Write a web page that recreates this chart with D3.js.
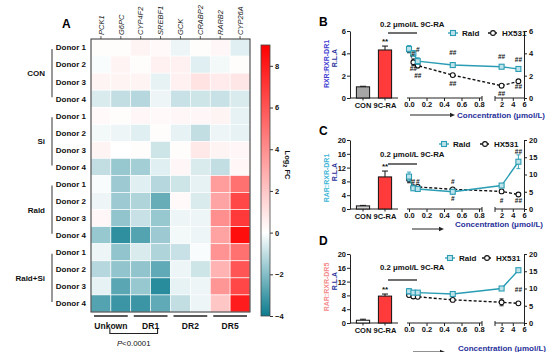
<!DOCTYPE html>
<html><head><meta charset="utf-8">
<script src="https://cdn.jsdelivr.net/npm/d3@7"></script>
<style>body{margin:0;background:#fff} svg{display:block} text{font-family:"Liberation Sans",Arial,sans-serif}</style>
</head><body><svg id="c" width="553" height="352"></svg>
<script>
// ---------- Panel A data ----------
const genes = ["PCK1","G6PC","CYP4F2","SREBF1","GCK","CRABP2","RARB2","CYP26A"];
const groups = ["CON","Si","Rald","Rald+Si"];
const donors = ["Donor 1","Donor 2","Donor 3","Donor 4"];
const heatValues = [
  [ 0.1, 0.1, 0.4, 0.2,-0.3, 0.1, 0.3,-0.5],
  [-0.1, 0.4, 0.1, 0.5, 0.5,-0.5,-0.2, 0.1],
  [ 0.4, 0.4, 0.4,-0.4, 0.5, 1.0, 0.7, 0.9],
  [-0.6,-1.0,-1.2,-0.3,-0.9,-0.8,-0.9,-0.6],
  [ 0.2, 0.1, 0.3, 0.2, 0.3, 0.3, 0.4,-0.4],
  [-0.2,-0.3,-0.5, 0.1,-0.4,-1.0,-0.3,-0.4],
  [ 0.4, 0.0, 0.1,-0.8, 0.1, 0.8, 0.4, 0.3],
  [-1.0,-1.7,-1.5,-0.5, 0.3,-0.6,-1.0, 0.3],
  [-0.1,-1.6,-0.5,-1.2,-0.8,-0.4, 3.5, 5.0],
  [-0.3,-1.6,-1.3,-2.5, 0.2,-0.6, 3.2, 6.5],
  [ 0.3,-1.8,-0.9,-1.7,-0.3,-0.3, 4.0, 7.0],
  [-1.7,-3.4,-2.8,-1.6,-0.2,-0.3, 3.3, 8.5],
  [-0.3,-1.8,-0.6,-1.3,-0.9,-0.1, 3.8, 5.0],
  [-1.2,-1.8,-1.8,-2.6,-0.3,-0.8, 2.7, 6.0],
  [-0.4,-2.7,-1.7,-3.5,-0.4,-0.3, 3.7, 6.5],
  [-2.8,-3.2,-3.2,-2.6,-1.0,-0.3, 2.0, 8.0]
];
const colorTicks = [-4,-2,0,2,4,6,8];
const familyLabels = ["Unkown","DR1","DR2","DR5"];
const familyGenes = [["PCK1","G6PC"],["CYP4F2","SREBF1"],["GCK","CRABP2"],["RARB2","CYP26A"]];
const pText = "<0.0001";

// ---------- Panels B-D data ----------
const barCategories = ["CON","9C-RA"];
const concX = [0, 0.05, 0.1, 0.5, 2, 5];
const seriesNames = ["Rald","HX531"];

const barB = [1.0, 4.3], barBErr = [0.05, 0.35];
const raldB = [4.4, 4.0, 3.3, 2.95, 2.8, 2.6], raldBErr = [0.3, 0.25, 0.3, 0.15, 0.1, 0.1];
const hxB   = [4.3, 3.2, 2.9, 2.05, 1.1, 1.5], hxBErr   = [0.25, 0.3, 0.2, 0.1, 0.1, 0.1];
const leftTicksB = [0,2,4,6], rightTicksB = [0,2,4,6];
const annotB = [[0.05,3.97,"#"],[0.1,4.3,"#"],[0.05,2.6,"##"],[0.1,2.05,"##"],[0.5,4.06,"##"],[0.5,1.3,"##"],[2,3.7,"##"],[5,3.45,"##"],[2,0.42,"##"],[5,1.05,"##"]];

const barC = [0.9, 9.3], barCErr = [0.15, 1.7];
const raldC = [9.4, 6.0, 5.8, 5.0, 6.8, 13.7], raldCErr = [1.3, 0.6, 0.5, 0.6, 0.5, 2.0];
const hxC   = [8.6, 6.3, 6.4, 5.7, 5.1, 4.2], hxCErr   = [1.0, 0.5, 0.5, 0.4, 0.4, 0.4];
const leftTicksC = [0,4,8,12,16,20], rightTicksC = [0,5,10,15,20];
const annotC = [[0.05,7.9,"#"],[0.1,8.1,"#"],[0.5,8.1,"#"],[0.5,3.1,"#"],[2,2.6,"#"],[5,16.6,"##"],[5,2.4,"##"]];

const barD = [0.8, 7.8], barDErr = [0.3, 0.6];
const raldD = [9.2, 8.8, 8.8, 8.4, 10.0, 15.3], raldDErr = [0.8, 0.4, 0.4, 0.4, 0.3, 0.5];
const hxD   = [8.1, 7.7, 7.6, 6.7, 6.0, 5.7], hxDErr   = [0.5, 0.6, 0.3, 0.3, 1.0, 0.3];
const leftTicksD = [0,4,8,12,16,20], rightTicksD = [0,5,10,15,20];
const annotD = [[5,9.6,"##"]];

const treatmentText = "0.2 \u03bcmol/L 9C-RA";
const concText = "Concentration (\u03bcmol/L)";

// ---------- Drawing ----------
const svg = d3.select("#c");
const FONT = "Liberation Sans, Arial, sans-serif";
const TEAL = "#0a7b8e", RED = "#ff0000", LINE_T = "#2a9db4", NAVY = "#27309a";

// Heatmap
const hx0 = 91, hx1 = 250, hy0 = 39, hy1 = 312;
const xH = d3.scaleBand().domain(genes).range([hx0, hx1]);
const rowKeys = groups.flatMap(g => donors.map(d => g + "|" + d));
const yH = d3.scaleBand().domain(rowKeys).range([hy0, hy1]);
const col = v => v >= 0 ? d3.interpolateRgb("#ffffff", RED)(Math.min(v/9,1)) : d3.interpolateRgb("#ffffff", TEAL)(Math.min(-v/4,1));

svg.append("text").attr("x",62).attr("y",28).attr("font-size",12).attr("font-weight","bold").text("A");

const cells = [];
heatValues.forEach((row,i)=>row.forEach((v,j)=>cells.push({r:rowKeys[i], g:genes[j], v})));
svg.append("g").selectAll("rect").data(cells).join("rect")
  .attr("x",d=>xH(d.g)).attr("y",d=>yH(d.r)).attr("width",xH.bandwidth()).attr("height",yH.bandwidth())
  .attr("fill",d=>col(d.v)).attr("stroke","#ffffff").attr("stroke-width",0.6);
svg.append("rect").attr("x",hx0).attr("y",hy0).attr("width",hx1-hx0).attr("height",hy1-hy0)
  .attr("fill","none").attr("stroke","#333").attr("stroke-width",1);

// gene labels
const gl = svg.append("g");
genes.forEach(g=>{
  const cx = xH(g)+xH.bandwidth()/2;
  gl.append("line").attr("x1",cx).attr("x2",cx).attr("y1",hy0).attr("y2",hy0-3).attr("stroke","#333").attr("stroke-width",0.8);
  gl.append("text").attr("transform",`translate(${cx+2.8},${hy0-4}) rotate(-90)`)
    .attr("font-size",7.5).attr("font-style","italic").attr("fill","#222").text(g);
});
// row labels
rowKeys.forEach(k=>{
  svg.append("text").attr("x",86).attr("y",yH(k)+yH.bandwidth()/2+2.9).attr("text-anchor","end")
    .attr("font-size",8).attr("font-weight","bold").attr("fill","#111").text(k.split("|")[1]);
});
// group labels
groups.forEach(g=>{
  const top = yH(g+"|"+donors[0]), bot = yH(g+"|"+donors[3])+yH.bandwidth();
  svg.append("line").attr("x1",52).attr("x2",52).attr("y1",top+10).attr("y2",bot-10).attr("stroke","#333").attr("stroke-width",1);
  svg.append("text").attr("x",45).attr("y",(top+bot)/2+2.9).attr("text-anchor","end")
    .attr("font-size",8).attr("font-weight","bold").attr("fill","#111").text(g);
});
// family brackets
familyGenes.forEach((fg,i)=>{
  const a = xH(fg[0])+3, b = xH(fg[1])+xH.bandwidth()-3;
  svg.append("line").attr("x1",a).attr("x2",b).attr("y1",316).attr("y2",316).attr("stroke","#222").attr("stroke-width",1.3);
  svg.append("text").attr("x",(a+b)/2).attr("y",328.5).attr("text-anchor","middle")
    .attr("font-size",8.5).attr("font-weight","bold").attr("fill","#111").text(familyLabels[i]);
});
{
  const a = xH("PCK1")+xH.bandwidth()-1, b = xH("SREBF1")+xH.bandwidth()/2-3;
  svg.append("path").attr("d",`M${a},329 V333.5 H${b} V329`).attr("fill","none").attr("stroke","#222").attr("stroke-width",1.1);
  const t = svg.append("text").attr("x",(a+b)/2).attr("y",346).attr("text-anchor","middle").attr("font-size",7.8).attr("fill","#111");
  t.append("tspan").attr("font-style","italic").text("P");
  t.append("tspan").text(pText);
}
// colorbar
const cbX = 261, cbW = 9;
const yCB = d3.scaleLinear().domain([-4,9]).range([316,45]);
const grad = svg.append("defs").append("linearGradient").attr("id","cbg").attr("x1",0).attr("x2",0).attr("y1",1).attr("y2",0);
d3.range(-4,9.01,0.5).forEach(v=>grad.append("stop").attr("offset",(v+4)/13).attr("stop-color",col(v)));
svg.append("rect").attr("x",cbX).attr("y",yCB(9)).attr("width",cbW).attr("height",yCB(-4)-yCB(9))
  .attr("fill","url(#cbg)").attr("stroke","#444").attr("stroke-width",0.8);
const cbAxis = svg.append("g").attr("transform",`translate(${cbX+cbW},0)`)
  .call(d3.axisRight(yCB).tickValues(colorTicks).tickSize(3).tickFormat(d3.format("d")));
cbAxis.select(".domain").remove();
cbAxis.selectAll("text").attr("font-size",7.5).attr("font-weight","bold").attr("font-family",FONT).attr("fill","#111").attr("x",5);
cbAxis.selectAll("line").attr("stroke","#333");
{
  const t = svg.append("text").attr("transform","translate(285,165) rotate(90)").attr("text-anchor","middle")
    .attr("font-size",7.5).attr("font-weight","bold").attr("fill","#111");
  t.append("tspan").text("Log");
  t.append("tspan").attr("font-size",5.5).attr("dy",2).text("2");
  t.append("tspan").attr("dy",-2).text(" FC");
}

// ---------- Panels B-D ----------
const s1 = d3.scaleLinear().domain([0,0.8]).range([409,479]);
const s2 = d3.scaleLinear().domain([1,6]).range([496,524]);
const xc = v => v <= 0.8 ? s1(v) : s2(v);
const xBar = d3.scaleBand().domain(barCategories).range([352,396]).paddingInner(0.4).paddingOuter(0.2);

const panels = [
  {lab:"B", labY:26, yTop:31, y0:98, max:6, lt:leftTicksB, rt:rightTicksB, bars:barB, barErr:barBErr, conFill:"#a6a6a6",
   rald:raldB, raldE:raldBErr, hx:hxB, hxE:hxBErr, ann:annotB, name1:"RXR:RXR-DR1", c1:"#3b3bd0", labCY:64,
   legY:33, legX1:453, legX2:493, trtY:27, trtLineY:33, concY:118, arrowY:115, arrowX0:410, arrowX1:455, concX:457},
  {lab:"C", labY:135, yTop:140, y0:209, max:20, lt:leftTicksC, rt:rightTicksC, bars:barC, barErr:barCErr, conFill:"#d0d0d0",
   rald:raldC, raldE:raldCErr, hx:hxC, hxE:hxCErr, ann:annotC, name1:"RAR:RXR-DR1", c1:"#3cb4d6", labCY:178,
   legY:144, legX1:444, legX2:485, trtY:157, trtLineY:164, concY:227, arrowY:229, arrowX0:412, arrowX1:444, concX:455},
  {lab:"D", labY:245, yTop:254, y0:323, max:20, lt:leftTicksD, rt:rightTicksD, bars:barD, barErr:barDErr, conFill:"#ffffff",
   rald:raldD, raldE:raldDErr, hx:hxD, hxE:hxDErr, ann:annotD, name1:"RAR:RXR-DR5", c1:"#f48a8a", labCY:287,
   legY:258, legX1:450, legX2:487, trtY:270, trtLineY:280, concY:351, arrowY:352, arrowX0:413, arrowX1:445, concX:458}
];

function styleAxis(g){
  g.selectAll("text").attr("font-size",7.5).attr("font-weight","bold").attr("font-family",FONT).attr("fill","#111");
  g.selectAll("line").attr("stroke","#222");
  g.select(".domain").attr("stroke","#222").attr("stroke-width",1);
}

panels.forEach(p=>{
  const y = d3.scaleLinear().domain([0,p.max]).range([p.y0,p.yTop]);
  svg.append("text").attr("x",319).attr("y",p.labY).attr("font-size",12).attr("font-weight","bold").text(p.lab);
  // y labels
  svg.append("text").attr("transform",`translate(329,${p.labCY}) rotate(-90)`).attr("text-anchor","middle")
    .attr("font-size",7).attr("font-weight","bold").attr("fill",p.c1).text(p.name1);
  svg.append("text").attr("transform",`translate(337,${p.labCY-6}) rotate(-90)`).attr("text-anchor","middle")
    .attr("font-size",7).attr("font-weight","bold").attr("fill",NAVY).text("R.L.A");
  // bar axis
  const ly = svg.append("g").attr("transform","translate(350,0)")
    .call(d3.axisLeft(y).tickValues(p.lt).tickSize(3).tickSizeOuter(0).tickFormat(d3.format("d")));
  styleAxis(ly); ly.selectAll("text").attr("x",-4);
  svg.append("line").attr("x1",350).attr("x2",398).attr("y1",p.y0).attr("y2",p.y0).attr("stroke","#222").attr("stroke-width",1);
  barCategories.forEach((c,i)=>{
    const bx = xBar(c), bw = xBar.bandwidth(), cx = bx+bw/2;
    const top = y(p.bars[i]+p.barErr[i]);
    svg.append("path").attr("d",`M${cx},${y(p.bars[i])} V${top} M${cx-3},${top} H${cx+3}`).attr("stroke","#111").attr("stroke-width",1).attr("fill","none");
    svg.append("rect").attr("x",bx).attr("y",y(p.bars[i])).attr("width",bw).attr("height",p.y0-y(p.bars[i]))
      .attr("fill", i===0 ? p.conFill : "#ff3a3a").attr("stroke","#111").attr("stroke-width",1);
    svg.append("line").attr("x1",cx).attr("x2",cx).attr("y1",p.y0).attr("y2",p.y0+2.5).attr("stroke","#222");
    svg.append("text").attr("x",cx).attr("y",p.y0+10).attr("text-anchor","middle").attr("font-size",7.5)
      .attr("font-weight","bold").attr("fill","#111").text(c);
  });
  svg.append("text").attr("x",xBar("9C-RA")+xBar.bandwidth()/2).attr("y",y(p.bars[1]+p.barErr[1])-2).attr("text-anchor","middle")
    .attr("font-size",8).attr("font-weight","bold").attr("fill","#111").text("**");
  // line chart axes
  const ax1 = svg.append("g").attr("transform",`translate(0,${p.y0})`)
    .call(d3.axisBottom(s1).tickValues([0,0.2,0.4,0.6,0.8]).tickSize(3).tickSizeOuter(0).tickFormat(d3.format(".1f")));
  styleAxis(ax1); ax1.select(".domain").attr("d",`M${s1(0)-2},0 H${s1(0.8)+3}`);
  ax1.selectAll("text").attr("y",4);
  const ax2 = svg.append("g").attr("transform",`translate(0,${p.y0})`)
    .call(d3.axisBottom(s2).tickValues([2,4,6]).tickSize(3).tickSizeOuter(0).tickFormat(d3.format("d")));
  styleAxis(ax2); ax2.select(".domain").attr("d",`M${s2(1)-1},0 H${s2(6)}`);
  ax2.selectAll("text").attr("y",4);
  svg.append("line").attr("x1",s2(1)-1).attr("x2",s2(1)-1).attr("y1",p.y0-2).attr("y2",p.y0+3).attr("stroke","#222");
  svg.append("line").attr("x1",s1(0.8)+3).attr("x2",s1(0.8)+3).attr("y1",p.y0-2).attr("y2",p.y0+3).attr("stroke","#222");
  const ry = svg.append("g").attr("transform",`translate(${s2(6)},0)`)
    .call(d3.axisRight(y).tickValues(p.rt).tickSize(3).tickSizeOuter(0).tickFormat(d3.format("d")));
  styleAxis(ry); ry.selectAll("text").attr("x",5);
  // series
  const mk = (vals,errs,color,dash,shape)=>{
    const pts = concX.map((c,i)=>[xc(c), y(vals[i]), y(vals[i]+errs[i]), y(vals[i]-errs[i])]);
    svg.append("path").attr("d",d3.line()(pts.map(q=>[q[0],q[1]]))).attr("fill","none").attr("stroke",color)
      .attr("stroke-width",1.4).attr("stroke-dasharray",dash);
    pts.forEach(q=>{
      svg.append("path").attr("d",`M${q[0]},${q[2]} V${q[3]} M${q[0]-2},${q[2]} H${q[0]+2} M${q[0]-2},${q[3]} H${q[0]+2}`)
        .attr("stroke",color).attr("stroke-width",0.9).attr("fill","none");
      if(shape==="sq") svg.append("rect").attr("x",q[0]-2.5).attr("y",q[1]-2.5).attr("width",5).attr("height",5)
        .attr("fill","#bfe3ea").attr("stroke",color).attr("stroke-width",1.1);
      else svg.append("circle").attr("cx",q[0]).attr("cy",q[1]).attr("r",2.4).attr("fill","#fff").attr("stroke",color).attr("stroke-width",1.1);
    });
  };
  mk(p.hx,p.hxE,"#111","3,2","ci");
  mk(p.rald,p.raldE,LINE_T,null,"sq");
  p.ann.forEach(a=>svg.append("text").attr("x",xc(a[0])).attr("y",y(a[1])+2.5).attr("text-anchor","middle")
    .attr("font-size",6.5).attr("font-weight","bold").attr("fill","#111").text(a[2]));
  // legend
  const lg = [[p.legX1,LINE_T,"sq",seriesNames[0],null],[p.legX2,"#111","ci",seriesNames[1],"2,1.5"]];
  lg.forEach(l=>{
    svg.append("line").attr("x1",l[0]-5).attr("x2",l[0]+5).attr("y1",p.legY).attr("y2",p.legY).attr("stroke",l[1]).attr("stroke-width",1.3).attr("stroke-dasharray",l[4]);
    if(l[2]==="sq") svg.append("rect").attr("x",l[0]-2.5).attr("y",p.legY-2.5).attr("width",5).attr("height",5).attr("fill","#bfe3ea").attr("stroke",l[1]).attr("stroke-width",1.1);
    else svg.append("circle").attr("cx",l[0]).attr("cy",p.legY).attr("r",2.4).attr("fill","#fff").attr("stroke",l[1]).attr("stroke-width",1.1);
    svg.append("text").attr("x",l[0]+9).attr("y",p.legY+2.8).attr("font-size",8).attr("font-weight","bold").attr("fill","#111").text(l[3]);
  });
  // treatment label
  svg.append("text").attr("x",380).attr("y",p.trtY).attr("font-size",7.8).attr("font-weight","bold").attr("fill","#111").text(treatmentText);
  svg.append("line").attr("x1",388).attr("x2",417).attr("y1",p.trtLineY).attr("y2",p.trtLineY).attr("stroke","#222").attr("stroke-width",1.3);
  // concentration label
  svg.append("line").attr("x1",p.arrowX0).attr("x2",p.arrowX1-4).attr("y1",p.arrowY).attr("y2",p.arrowY).attr("stroke","#222").attr("stroke-width",1);
  svg.append("path").attr("d",`M${p.arrowX1},${p.arrowY} l-5,-2.2 v4.4 z`).attr("fill","#222");
  svg.append("text").attr("x",p.concX).attr("y",p.concY).attr("font-size",8).attr("font-weight","bold").attr("fill",NAVY).text(concText);
});
</script></body></html>
